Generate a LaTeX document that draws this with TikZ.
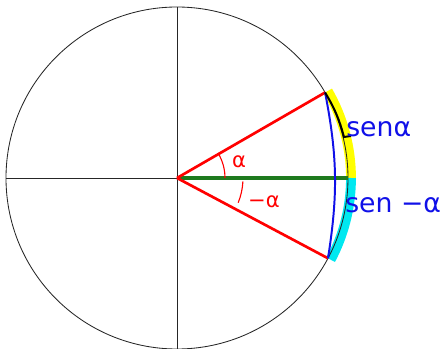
\documentclass[tikz,border=0pt]{standalone}
\usepackage{fontspec}
\setsansfont{DejaVu Sans}
\definecolor{hlyellow}{HTML}{FFFF00}
\definecolor{hlcyan}{HTML}{00E8F0}
\definecolor{cosgreen}{HTML}{1E7A1E}
\definecolor{penblue}{HTML}{1010E8}

\begin{document}
\begin{tikzpicture}[
  x=0.025cm, y=0.025cm,
  axis/.style={draw=black!85, line width=0.6pt},
  side/.style={draw=red, line width=1.9pt},
  hl/.style={line width=7pt},
  lbl/.style={font=\sffamily\fontsize{19}{22}\selectfont, text=penblue, inner sep=0pt},
  ang/.style={font=\sffamily\fontsize{15}{18}\selectfont, text=red, inner sep=0pt}
]
\useasboundingbox (-177,-171) rectangle (266,178);
\coordinate (O) at (0,0);
\coordinate (A) at (30:171);
\coordinate (B) at (-28:171);
\coordinate (E) at (0:171);
\coordinate (W) at (180:171);
\coordinate (N) at (90:171);
\coordinate (S) at (-90:171);
\coordinate (hook) at (167,41);

% highlights under the circle
\draw[hl, hlyellow] (30:174) arc[start angle=30, end angle=0, radius=174];
\draw[hl, hlcyan] (0:174) arc[start angle=0, end angle=-28, radius=174];

\draw[axis] (O) circle[radius=171];
\draw[axis] (W) -- (E);
\draw[axis] (N) -- (S);

\draw[cosgreen, line width=2.2pt] (O) -- (E);
\draw[side] (O) -- (A);
\draw[side] (O) -- (B);
\draw[penblue, line width=1.4pt] (A) to[bend left=10] (B);
\draw[black, line width=1.4pt] (A) to[bend left=8] (hook) -- ++(7,1);

% angle marks
\draw[red, line width=0.8pt] (48,0) arc[start angle=0, end angle=30, radius=48];
\draw[red, line width=0.8pt] (-3:66) arc[start angle=-3, end angle=-22, radius=66];

\node[ang] (a1) at (62,16) {α};
\node[ang] (a2) at (87,-24) {−α};
\node[lbl, anchor=west] (sa) at (169,49) {senα};
\node[lbl, anchor=west] (sb) at (168,-27) {sen −α};
\end{tikzpicture}
\end{document}
